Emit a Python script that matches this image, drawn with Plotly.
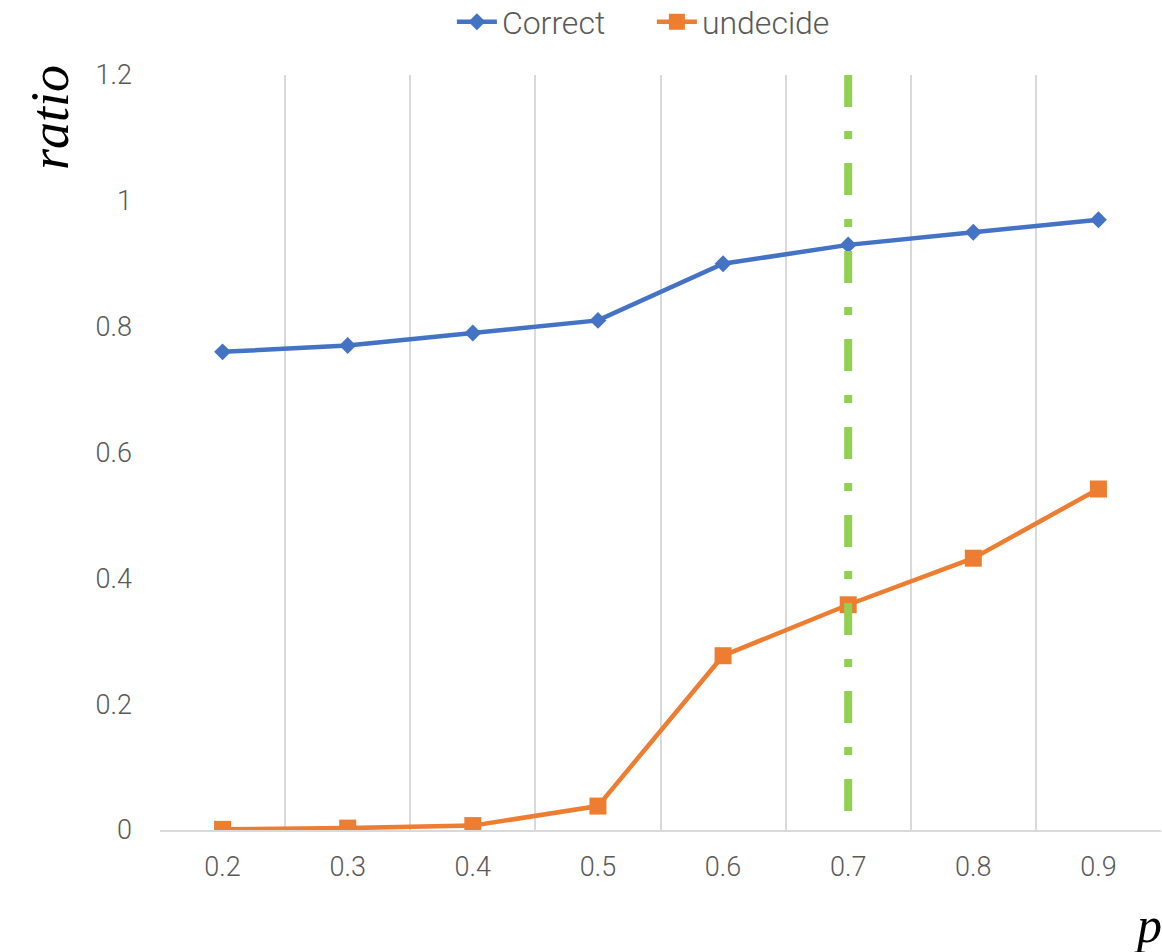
import plotly.graph_objects as go

categories = ["0.2", "0.3", "0.4", "0.5", "0.6", "0.7", "0.8", "0.9"]
correct = [0.76, 0.77, 0.79, 0.81, 0.90, 0.93, 0.95, 0.97]
undecide = [0.001, 0.003, 0.007, 0.038, 0.277, 0.358, 0.432, 0.542]
threshold_x = ["0.7", "0.7"]
threshold_y = [1.2, 0.03]
y_ticks = [0, 0.2, 0.4, 0.6, 0.8, 1.0, 1.2]
y_ticklabels = ["0", "0.2", "0.4", "0.6", "0.8", "1", "1.2"]

W, H = 1162, 952
L, R, T, B = 160, 1, 75, 122
pw, ph = W - L - R, H - T - B

tick_font = dict(family="Roboto", size=27, color="#595959", weight=300)

fig = go.Figure()
fig.add_trace(go.Scatter(
    x=categories, y=correct, name="Correct", mode="lines+markers",
    line=dict(color="#4472C4", width=4.5),
    marker=dict(symbol="diamond", size=13, color="#4472C4"),
))
fig.add_trace(go.Scatter(
    x=categories, y=undecide, name="undecide", mode="lines+markers",
    line=dict(color="#ED7D31", width=4.5),
    marker=dict(symbol="square", size=17, color="#ED7D31"),
))
fig.add_trace(go.Scatter(
    x=threshold_x, y=threshold_y, mode="lines", showlegend=False,
    line=dict(color="#92D050", width=8, dash="32px,24px,8px,24px"),
    hoverinfo="skip",
))

fig.update_layout(
    width=W, height=H,
    margin=dict(l=L, r=R, t=T, b=B),
    paper_bgcolor="white", plot_bgcolor="white",
    showlegend=True,
    legend=dict(
        orientation="h", xref="container", yref="container",
        x=0.561, y=1 - 22 / H, xanchor="center", yanchor="middle",
        font=dict(family="Roboto", size=32, color="#595959", weight=300),
        itemwidth=40, traceorder="normal", entrywidth=145,
    ),
    xaxis=dict(
        type="category", categoryorder="array", categoryarray=categories,
        range=[-0.5, len(categories) - 0.5],
        tickson="boundaries", showgrid=True, gridcolor="#D9D9D9", gridwidth=2,
        showline=True, linecolor="#D9D9D9", linewidth=2,
        ticks="", tickfont=tick_font, ticklabelstandoff=12,
        zeroline=False, fixedrange=True,
    ),
    yaxis=dict(
        range=[0, 1.2], tickvals=y_ticks, ticktext=y_ticklabels,
        showgrid=False, zeroline=False, showline=False,
        ticks="", tickfont=tick_font, ticklabelstandoff=27,
        fixedrange=True,
    ),
    annotations=[
        dict(text="ratio", textangle=-90, xref="paper", yref="paper",
             x=(50 - L) / pw, y=(H - B - 118) / ph, showarrow=False,
             xanchor="center", yanchor="middle",
             font=dict(family="Liberation Serif", size=54, color="black", style="italic")),
        dict(text="p", xref="paper", yref="paper",
             x=(1148 - L) / pw, y=(H - B - 925) / ph, showarrow=False,
             xanchor="center", yanchor="middle",
             font=dict(family="Liberation Serif", size=50, color="black", style="italic")),
    ],
)

fig.write_html("out.html")
